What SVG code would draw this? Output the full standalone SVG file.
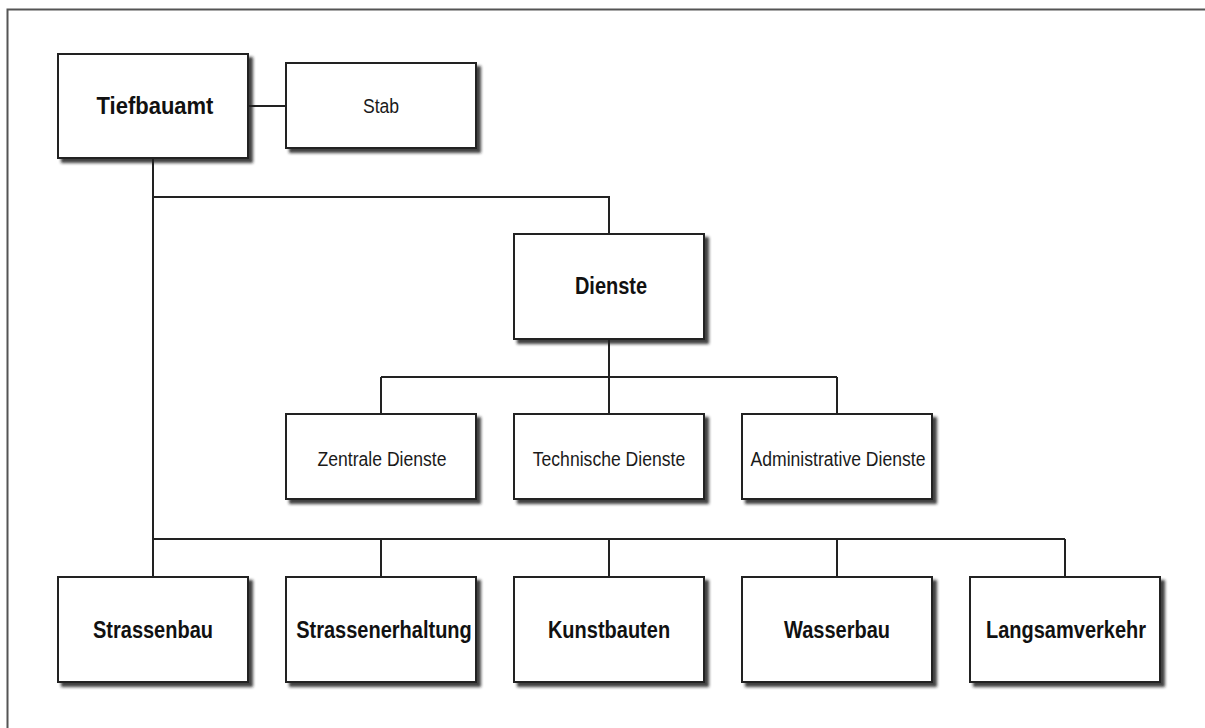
<svg xmlns="http://www.w3.org/2000/svg" width="1205" height="728" viewBox="0 0 1205 728">
<defs>
<filter id="sh" x="-10%" y="-10%" width="130%" height="130%">
<feDropShadow dx="4" dy="4" stdDeviation="1.6" flood-color="#222" flood-opacity="0.85"/>
</filter>
<style>
.box{fill:#fff;stroke:#222;stroke-width:2;filter:url(#sh)}
.b{font-family:"Liberation Sans",Arial,sans-serif;font-weight:bold;font-size:20px;fill:#111;text-anchor:middle}
.r{font-family:"Liberation Sans",Arial,sans-serif;font-size:17.6px;fill:#1a1a1a;text-anchor:middle}
.c{fill:none;stroke:#222;stroke-width:2}
</style>
</defs>
<rect width="1205" height="728" fill="#fff"/>
<path d="M7.5 740 V9.5 H1210" fill="none" stroke="#555" stroke-width="2"/>
<g id="connectors">
<path class="c" d="M248 106 H286"/>
<path class="c" d="M153 158 V541"/>
<path class="c" d="M153 197 H609 V234"/>
<path class="c" d="M609 339 V377"/>
<path class="c" d="M381 377 H837"/>
<path class="c" d="M381 377 V414 M609 377 V414 M837 377 V414"/>
<path class="c" d="M153 539 H1065"/>
<path class="c" d="M153 539 V577 M381 539 V577 M609 539 V577 M837 539 V577 M1065 539 V577"/>
</g>
<g id="tiefbauamt"><rect class="box" x="58" y="54" width="190" height="104"/><text class="b" style="font-size:22px" transform="translate(155 114) scale(1 1.1)">Tiefbauamt</text></g>
<g id="stab"><rect class="box" x="286" y="63" width="190" height="85"/><text class="r" transform="translate(381 113) scale(1 1.12)">Stab</text></g>
<g id="dienste"><rect class="box" x="514" y="234" width="190" height="105"/><text class="b" transform="translate(611 294) scale(1 1.15)">Dienste</text></g>
<g id="zentrale"><rect class="box" x="286" y="414" width="190" height="85"/><text class="r" transform="translate(382 466) scale(1 1.12)">Zentrale Dienste</text></g>
<g id="technische"><rect class="box" x="514" y="414" width="190" height="85"/><text class="r" transform="translate(609 466) scale(1 1.12)">Technische Dienste</text></g>
<g id="administrative"><rect class="box" x="742" y="414" width="190" height="85"/><text class="r" transform="translate(838 466) scale(1 1.12)">Administrative Dienste</text></g>
<g id="strassenbau"><rect class="box" x="58" y="577" width="190" height="105"/><text class="b" transform="translate(153 638) scale(1 1.15)">Strassenbau</text></g>
<g id="strassenerhaltung"><rect class="box" x="286" y="577" width="190" height="105"/><text class="b" transform="translate(384 638) scale(1 1.15)">Strassenerhaltung</text></g>
<g id="kunstbauten"><rect class="box" x="514" y="577" width="190" height="105"/><text class="b" transform="translate(609 638) scale(1 1.15)">Kunstbauten</text></g>
<g id="wasserbau"><rect class="box" x="742" y="577" width="190" height="105"/><text class="b" transform="translate(837 638) scale(1 1.15)">Wasserbau</text></g>
<g id="langsamverkehr"><rect class="box" x="970" y="577" width="190" height="105"/><text class="b" transform="translate(1066 638) scale(1 1.15)">Langsamverkehr</text></g>
</svg>
